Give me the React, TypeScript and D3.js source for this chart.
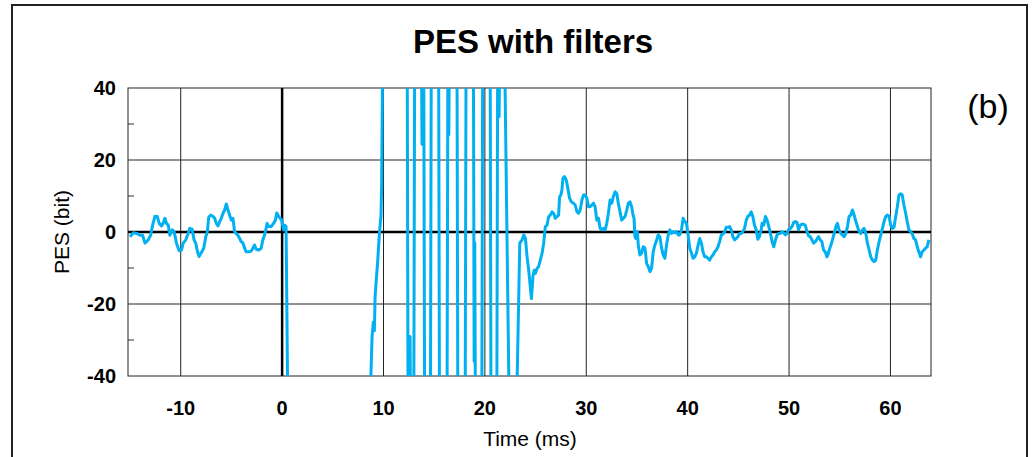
import * as d3 from "d3";

// axis ticks
const xTicks = [-10, 0, 10, 20, 30, 40, 50, 60];
const yTicks = [-40, -20, 0, 20, 40];
const yMinorTicks = [-30, -10, 10, 30];

// PES trace (ms, bit); values beyond +-40 are clipped in the plot
const timeMs = [
  -15.0, -14.67, -14.35, -14.02, -13.76, -13.53, -13.2, -12.97, -12.77, -12.54, -12.31, -12.12, -11.89, -11.73,
  -11.56, -11.4, -11.23, -11.07, -10.84, -10.65, -10.42, -10.15, -9.92, -9.76, -9.5, -9.27, -9.11, -8.88, -8.68,
  -8.52, -8.35, -8.19, -7.96, -7.73, -7.53, -7.37, -7.24, -7.04, -6.88, -6.65, -6.49, -6.32, -6.16, -6.0, -5.83,
  -5.67, -5.5, -5.34, -5.18, -5.01, -4.85, -4.69, -4.52, -4.36, -4.19, -4.03, -3.87, -3.7, -3.54, -3.28, -3.05,
  -2.88, -2.72, -2.56, -2.3, -2.07, -1.9, -1.74, -1.57, -1.48, -1.31, -1.08, -0.85, -0.66, -0.53, -0.33, -0.2,
  -0.04, 0.13, 0.26, 0.39, 0.6,
  8.55, 8.87, 9.0, 9.1, 9.17, 9.26, 9.43, 9.59, 9.75, 9.82, 9.95,
  12.33, 12.43, 12.55, 12.62, 12.7, 12.98, 13.08,
  13.72, 13.8, 13.88, 13.96, 14.06,
  14.62, 14.72, 15.43, 15.53,
  16.26, 16.36, 16.44, 16.52,
  17.24, 17.34, 18.05, 18.15,
  18.86, 18.94, 19.0, 19.08,
  19.69, 19.79, 20.51, 20.61,
  21.17, 21.27, 21.4, 21.5,
  21.9, 22.45, 23.05, 23.44,
  23.67, 23.83, 24.0, 24.16, 24.32, 24.49, 24.59, 24.75, 24.88, 24.98, 25.15, 25.3, 25.47, 25.64, 25.8, 25.96,
  26.13, 26.29, 26.45, 26.62, 26.78, 26.94, 27.11, 27.27, 27.37, 27.5, 27.6, 27.7, 27.86, 28.03, 28.15, 28.35,
  28.52, 28.74, 28.91, 29.08, 29.23, 29.4, 29.57, 29.73, 29.89, 30.06, 30.22, 30.38, 30.55, 30.71, 30.87, 31.04,
  31.2, 31.37, 31.53, 31.69, 31.86, 32.02, 32.18, 32.35, 32.51, 32.67, 32.84, 33.01, 33.16, 33.33, 33.5, 33.66,
  33.82, 33.99, 34.15, 34.31, 34.48, 34.58, 34.71, 34.8, 34.9, 35.03, 35.13, 35.29, 35.46, 35.62, 35.79, 35.95,
  36.11, 36.28, 36.44, 36.6, 36.77, 36.94, 37.09, 37.26, 37.43, 37.59, 37.75, 37.92, 38.08, 38.24, 38.41, 38.57,
  38.73, 38.9, 39.06, 39.22, 39.39, 39.55, 39.72, 39.88, 40.04, 40.21, 40.38, 40.53, 40.7, 40.86, 41.03, 41.19,
  41.36, 41.51, 41.68, 41.85, 42.0, 42.17, 42.34, 42.5, 42.66, 42.83, 42.99,
  43.15, 43.32, 43.48, 43.65, 43.81, 43.97, 44.14, 44.3, 44.46, 44.63, 44.79, 44.95, 45.12, 45.28, 45.44, 45.61,
  45.78, 45.93, 46.1, 46.26, 46.43, 46.59, 46.76, 46.92, 47.08, 47.25, 47.34, 47.5, 47.67, 47.84, 48.0, 48.16,
  48.33, 48.49, 48.66, 48.82, 48.98, 49.14, 49.31, 49.47, 49.64, 49.8, 49.96, 50.13, 50.29, 50.45, 50.62, 50.79,
  50.94, 51.11, 51.28, 51.43, 51.6, 51.77, 51.93, 52.09, 52.26, 52.42, 52.59, 52.75, 52.91, 53.08, 53.24, 53.4,
  53.57, 53.73, 53.83, 53.96, 54.13, 54.28, 54.45, 54.62, 54.77, 54.94, 55.11, 55.26, 55.43, 55.6, 55.76, 55.92,
  56.09, 56.25, 56.42, 56.59, 56.75, 56.91, 57.08, 57.24, 57.4, 57.57, 57.73, 57.9, 58.06, 58.22, 58.39, 58.55,
  58.71, 58.88, 59.05, 59.21, 59.37, 59.54, 59.69, 59.86, 60.03, 60.19, 60.35, 60.52, 60.68, 60.84, 61.0, 61.16,
  61.33, 61.5, 61.65, 61.82, 61.99, 62.14, 62.31, 62.48, 62.64, 62.8, 62.97, 63.13, 63.3, 63.46, 63.62, 63.79,
];
const pesBit = [
  -1.3, -0.2, -0.4, -0.9, -0.9, -3.1, -2.2, -0.9, 1.9, 4.4, 4.3, 2.4, 1.7, 2.4,
  3.8, 2.4, 1.9, -0.9, 0.6, 0.1, -3.1, -5.2, -5.0, -3.1, -2.2, -0.4, 1.0, 0.8, -2.2,
  -3.1, -5.5, -6.8, -5.7, -4.5, -1.3, 0.1, 4.1, 4.7, 4.5, 3.8, 2.4, 1.7, 2.9, 3.8, 5.2,
  6.1, 7.8, 6.1, 4.7, 3.3, 3.8, 0.1, -0.4, -0.9, -1.8, -2.7, -3.0, -4.5, -5.5, -5.5, -5.3,
  -4.5, -3.6, -4.8, -5.0, -4.5, -2.2, -0.9, 1.0, 2.4, 1.5, 1.5, 2.4, 3.3, 5.3, 4.3, 3.8,
  3.3, 0.6, 1.9, 1.5, -60,
  -60, -29.2, -25, -27.4, -18, -14.4, -8, -0.6, 4.5, 13.3, 60,
  60, -60, -60, -29, -60, -60, 60,
  60, 24.4, 60, 60, -60,
  -60, 60, 60, -60,
  -60, 60, 27, 60,
  60, -60, -60, 60,
  60, -36, -3, -60,
  -60, 60, 60, -60,
  -60, 60, 32, 60,
  60, -60, -60, -3.1,
  -2.2, -0.8, -1.8, -6.9, -10.6, -15.6, -18.5, -12, -10.6, -11.5, -10.1, -9.6, -7.8, -5.9, -3.1, 1.5,
  1.9, 4.3, 4.7, 5.6, 5.2, 3.8, 4.3, 4.7, 9.8, 10.3, 11.7, 14.9, 15.4, 14.4, 12.6, 9.4,
  8.4, 8.0, 7.5, 5.6, 5.2, 6.1, 8.9, 10.3, 10.3, 9.4, 7.0, 7.0, 7.5, 8.0, 7.0, 3.3,
  3.8, 1.0, 0.6, 1.0, 0.6, 2.4, 5.2, 8.9, 8.0, 9.8, 11.2, 10.7, 8.0, 5.6, 3.3, 3.8,
  4.3, 6.1, 8.0, 8.4, 7.0, 5.2, 3.8, -1.3, -1.8, 0.1, -3.6, -6.4, -5.9, -4.1, -4.5, -8.7,
  -9.6, -11.0, -10.1, -5.5, -3.6, -2.2, -0.8, -1.3, -4.5, -6.4, -7.3, -3.6, -0.8, 0.6, -0.4, 0.1,
  -0.2, 0.1, -0.8, -0.8, 0.6, 3.8, 2.9, 2.4, -0.8, -4.5, -5.9, -7.3, -6.9, -5.9, -3.6, -1.8,
  -3.1, -5.5, -6.9, -6.9, -7.3, -7.8, -6.9, -6.4, -5.5, -5.0, -4.1,
  -2.7, -0.8, -0.6, 0.1, 1.3, 1.3, 1.5, 0.6, -1.3, -2.2, -1.8, -1.3, -0.4, -0.4, 0.1, 1.0,
  3.3, 4.3, 4.7, 5.6, 4.3, 1.9, 0.6, -2.0, -1.3, 0.6, 2.4, 1.9, 4.3, 3.3, 1.5, -0.4,
  -2.7, -4.1, -2.2, -0.8, -0.4, -0.4, 0.1, -0.2, -0.8, -0.4, 0.7, 1.0, 1.5, 2.6, 2.9, 2.6,
  0.6, 1.9, 2.2, 2.1, 1.9, 0.1, -1.1, -1.3, -2.2, -3.1, -2.7, -2.0, -1.3, -2.2, -2.7, -5.0,
  -5.5, -6.9, -6.4, -5.0, -3.6, -2.2, -0.4, 1.5, 2.4, 0.6, -0.4, -0.8, -1.3, -0.4, 1.5, 4.3,
  4.7, 6.1, 4.7, 2.9, 1.5, 0.1, -0.4, 0.6, 1.0, -0.4, -3.1, -5.0, -6.9, -7.8, -8.2, -7.8,
  -5.0, -2.7, -0.8, 1.0, 2.9, 4.3, 4.7, 4.4, 1.9, 1.0, 1.3, 4.3, 7.0, 10.3, 10.6, 10.3,
  7.5, 5.2, 2.9, 0.6, 0.1, -0.4, -1.8, -2.2, -4.1, -5.5, -6.9, -5.5, -5.0, -4.5, -4.1, -2.2,
];

const font = "'Liberation Sans', Arial, sans-serif";

export default function App() {
  const W = 1032, H = 457;
  const left = 128, right = 931, top = 88, bottom = 376;

  const x = d3.scaleLinear().domain([-15.2, 64]).range([left, right]);
  const y = d3.scaleLinear().domain([-40, 40]).range([bottom, top]);

  const pts: [number, number][] = timeMs.map((t, i) => [t, pesBit[i]]);
  const line = d3.line<[number, number]>()
    .x(d => x(d[0]))
    .y(d => y(d[1]));

  return (
    <svg width={W} height={H} style={{ position: "absolute", left: 0, top: 0, background: "#fff" }}>
      <defs>
        <clipPath id="plot">
          <rect x={left} y={top} width={right - left} height={bottom - top} />
        </clipPath>
      </defs>

      {/* outer frame */}
      <rect x={12} y={5} width={1015} height={470} fill="none" stroke="#222" strokeWidth={2} />

      <text x={533} y={53} textAnchor="middle" fontFamily={font} fontWeight="bold" fontSize={33}>
        PES with filters
      </text>
      <text x={988} y={118} textAnchor="middle" fontFamily={font} fontSize={34}>(b)</text>

      {/* grid */}
      {xTicks.filter(t => t !== 0).map(t => (
        <line key={"gx" + t} x1={x(t)} x2={x(t)} y1={top} y2={bottom} stroke="#222" strokeWidth={1} />
      ))}
      {yTicks.filter(v => v !== 0 && Math.abs(v) !== 40).map(v => (
        <line key={"gy" + v} x1={left} x2={right} y1={y(v)} y2={y(v)} stroke="#222" strokeWidth={1} />
      ))}
      {yMinorTicks.map(v => (
        <line key={"my" + v} x1={left} x2={left + 6} y1={y(v)} y2={y(v)} stroke="#333" strokeWidth={1} />
      ))}
      <rect x={left} y={top} width={right - left} height={bottom - top} fill="none" stroke="#222" strokeWidth={1} />
      <line x1={x(0)} x2={x(0)} y1={top} y2={bottom} stroke="#000" strokeWidth={2.5} />
      <line x1={left} x2={right} y1={y(0)} y2={y(0)} stroke="#000" strokeWidth={2.5} />

      <path d={line(pts) ?? ""} fill="none" stroke="#00b0f0" strokeWidth={3} strokeLinejoin="round"
        clipPath="url(#plot)" />

      {/* tick labels */}
      {yTicks.map(v => (
        <text key={"ty" + v} x={116} y={y(v)} dy="0.36em" textAnchor="end" fontFamily={font}
          fontWeight="bold" fontSize={20}>{v}</text>
      ))}
      {xTicks.map(t => (
        <text key={"tx" + t} x={x(t)} y={415} textAnchor="middle" fontFamily={font}
          fontWeight="bold" fontSize={20}>{t}</text>
      ))}

      <text x={530} y={446} textAnchor="middle" fontFamily={font} fontSize={21}>Time (ms)</text>
      <text transform={`translate(69,232) rotate(-90)`} textAnchor="middle" fontFamily={font} fontSize={21}>
        PES (bit)
      </text>
    </svg>
  );
}
